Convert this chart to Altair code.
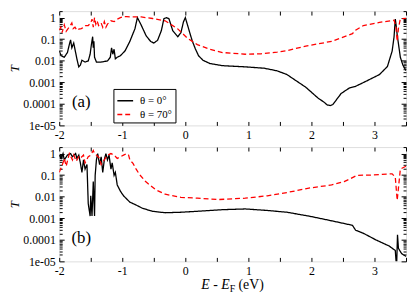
import math
import altair as alt
import pandas as pd

FONT = "Liberation Serif"
series_names = ["θ = 0°", "θ = 70°"]
series_colors = ["#000000", "#ff0000"]
series_dashes = [[1, 0], [5, 3]]

# ---- panel (a): (E, T) pairs ----
a_theta0 = [(-2.0, 0.029), (-1.97, 0.017), (-1.92, 0.0145), (-1.87, 0.024), (-1.84, 0.056), (-1.82, 0.093),
            (-1.80, 0.040), (-1.77, 0.066), (-1.74, 0.024), (-1.715, 0.0105), (-1.69, 0.0052), (-1.665, 0.0063),
            (-1.64, 0.0105), (-1.59, 0.0087), (-1.54, 0.0098), (-1.51, 0.020), (-1.49, 0.056), (-1.47, 0.13),
            (-1.46, 0.040), (-1.45, 0.079), (-1.44, 0.0145), (-1.41, 0.0087), (-1.335, 0.0087), (-1.235, 0.0098),
            (-1.19, 0.0145), (-1.17, 0.040), (-1.15, 0.020), (-1.13, 0.034), (-1.11, 0.0123), (-1.08, 0.0145),
            (-1.03, 0.017), (-0.955, 0.029), (-0.88, 0.079), (-0.80, 0.30), (-0.76, 1.0), (-0.70, 0.45),
            (-0.62, 0.14), (-0.55, 0.079), (-0.50, 0.066), (-0.44, 0.089), (-0.38, 0.25), (-0.34, 0.89),
            (-0.30, 1.0), (-0.26, 0.89), (-0.20, 0.25), (-0.12, 0.13), (-0.07, 0.20), (-0.03, 0.63), (0.0, 1.0),
            (0.04, 0.40), (0.08, 0.16), (0.11, 0.083), (0.16, 0.035), (0.21, 0.017), (0.28, 0.0105),
            (0.39, 0.0074), (0.59, 0.0059), (0.95, 0.0052), (1.25, 0.0045), (1.455, 0.0034), (1.61, 0.0023),
            (1.91, 5.9e-4), (2.11, 1.8e-4), (2.20, 1.2e-4), (2.25, 8.9e-5), (2.30, 8.3e-5), (2.34, 9.3e-5),
            (2.40, 1.6e-4), (2.47, 3.0e-4), (2.60, 5.4e-4), (2.69, 6.3e-4), (2.875, 1.15e-3), (3.08, 2.3e-3),
            (3.205, 5.4e-3), (3.28, 0.028), (3.31, 0.126), (3.33, 0.85), (3.345, 0.40), (3.36, 0.16),
            (3.41, 0.0145), (3.45, 0.0063), (3.50, 0.0035)]
a_theta70 = [(-2.0, 0.26), (-1.975, 0.36), (-1.955, 0.20), (-1.92, 0.46), (-1.89, 0.23), (-1.86, 0.31),
             (-1.83, 0.40), (-1.80, 0.56), (-1.78, 0.31), (-1.75, 0.36), (-1.72, 0.26), (-1.69, 0.29),
             (-1.65, 0.31), (-1.61, 0.36), (-1.58, 0.43), (-1.54, 0.43), (-1.50, 0.56), (-1.48, 0.85),
             (-1.46, 0.36), (-1.44, 1.0), (-1.42, 0.50), (-1.40, 0.71), (-1.375, 0.43), (-1.335, 0.56),
             (-1.31, 0.36), (-1.285, 0.65), (-1.26, 0.36), (-1.235, 0.50), (-1.18, 0.71), (-1.13, 0.65),
             (-1.08, 0.85), (-1.03, 1.0), (-0.98, 1.10), (-0.93, 1.10), (-0.85, 1.07), (-0.70, 1.07),
             (-0.52, 0.91), (-0.32, 0.71), (-0.12, 0.30), (0.035, 0.11), (0.19, 0.056), (0.39, 0.034),
             (0.59, 0.024), (0.95, 0.020), (1.2, 0.021), (1.455, 0.025), (1.61, 0.029), (1.91, 0.048),
             (2.32, 0.079), (2.65, 0.18), (2.70, 0.26), (2.825, 0.43), (3.08, 0.60), (3.31, 0.76),
             (3.34, 0.40), (3.36, 0.079), (3.38, 0.32), (3.41, 0.89), (3.50, 0.93)]

# ---- panel (b) ----
b_theta0 = [(-2.0, 0.85), (-1.97, 0.60), (-1.94, 1.0), (-1.92, 0.51), (-1.87, 0.85), (-1.82, 1.0),
            (-1.79, 0.71), (-1.74, 1.0), (-1.72, 0.60), (-1.69, 0.85), (-1.665, 0.37), (-1.64, 0.135),
            (-1.615, 0.51), (-1.59, 0.19), (-1.56, 0.31), (-1.54, 0.0048), (-1.51, 0.00126), (-1.50, 0.011),
            (-1.48, 0.00126), (-1.46, 0.050), (-1.44, 0.00126), (-1.43, 0.098), (-1.41, 0.51), (-1.39, 1.0),
            (-1.36, 0.31), (-1.335, 0.71), (-1.31, 0.135), (-1.285, 0.51), (-1.26, 1.0), (-1.235, 0.51),
            (-1.21, 0.85), (-1.18, 0.19), (-1.16, 0.37), (-1.13, 0.098), (-1.11, 0.135), (-1.08, 0.035),
            (-1.03, 0.018), (-0.98, 0.011), (-0.88, 0.0056), (-0.78, 0.0041), (-0.68, 0.0029), (-0.52, 0.0021),
            (-0.32, 0.0018), (-0.07, 0.0019), (0.19, 0.0021), (0.59, 0.0025), (0.95, 0.0027), (1.30, 0.0023),
            (1.61, 0.0019), (1.96, 0.00126), (2.32, 7.6e-4), (2.65, 4.7e-4), (2.70, 2.8e-4), (2.825, 2.0e-4),
            (3.02, 1.0e-4), (3.23, 5.2e-5), (3.33, 3.2e-5), (3.35, 5e-6), (3.365, 1.7e-4), (3.38, 4.0e-5),
            (3.43, 2.3e-5), (3.50, 1.7e-5)]
b_theta70 = [(-2.0, 0.135), (-1.97, 0.22), (-1.94, 0.37), (-1.92, 0.60), (-1.89, 0.26), (-1.84, 1.0),
             (-1.79, 0.51), (-1.77, 0.85), (-1.73, 0.44), (-1.69, 0.71), (-1.665, 0.60), (-1.615, 0.85),
             (-1.59, 0.37), (-1.54, 0.71), (-1.50, 0.85), (-1.46, 1.38), (-1.44, 1.0), (-1.41, 0.85),
             (-1.36, 0.60), (-1.335, 0.31), (-1.285, 0.51), (-1.235, 0.85), (-1.18, 1.0), (-1.13, 0.85),
             (-1.08, 0.60), (-1.03, 0.71), (-0.98, 0.85), (-0.93, 1.0), (-0.90, 0.85), (-0.88, 0.51),
             (-0.83, 0.35), (-0.78, 0.19), (-0.73, 0.11), (-0.63, 0.050), (-0.47, 0.021), (-0.32, 0.013),
             (-0.07, 0.0093), (0.19, 0.0085), (0.54, 0.0074), (0.95, 0.0085), (1.30, 0.011), (1.61, 0.0155),
             (1.96, 0.025), (2.32, 0.035), (2.52, 0.050), (2.62, 0.069), (2.72, 0.098), (2.92, 0.10),
             (3.28, 0.115), (3.33, 0.081), (3.36, 0.0068), (3.38, 0.025), (3.41, 0.19), (3.45, 0.22),
             (3.50, 0.26)]

panel_labels = ["(a)", "(b)"]
panel_label_pos = (-1.65, 1.2e-4)

x_ticks = [-2, -1.5, -1, -0.5, 0, 0.5, 1, 1.5, 2, 2.5, 3, 3.5]
x_tick_labels = ["-2", "", "-1", "", "0", "", "1", "", "2", "", "3", ""]
y_major = [1e-5, 1e-4, 1e-3, 1e-2, 1e-1, 1]
y_major_labels = ["1e-05", "0.0001", "0.001", "0.01", "0.1", "1"]
y_minor = [m * d for d in y_major for m in range(2, 10) if m * d <= 2]

W, H = 352, 116

xscale = alt.Scale(domain=[-2, 3.5], nice=False, zero=False)
yscale = alt.Scale(type="log", domain=[1e-5, 2], nice=False)


def x_label_expr():
    expr = "''"
    for v, lab in reversed(list(zip(x_ticks, x_tick_labels))):
        expr = f"abs(datum.value - ({v})) < 0.1 ? '{lab}' : ({expr})"
    return expr


def y_label_expr():
    expr = "''"
    for v, lab in reversed(list(zip(y_major, y_major_labels))):
        expr = f"abs(log(datum.value) - ({math.log(v)})) < 0.3 ? '{lab}' : ({expr})"
    return expr


common = dict(grid=False, domain=False, tickColor="black", tickWidth=1, labelColor="black",
              labelFontSize=12, labelFlush=False, labelOverlap=False, labelBound=False)

x_bottom = alt.Axis(orient="bottom", values=x_ticks, tickSize=4, offset=-4, labelExpr=x_label_expr(),
                    labelPadding=4, title=None, **common)
x_top = alt.Axis(orient="top", values=x_ticks, tickSize=4, offset=-4, labels=False, title=None, **common)
y_left_major = alt.Axis(orient="left", values=y_major, tickSize=5, offset=-5, labelExpr=y_label_expr(),
                        labelPadding=4, title="T", titleFontSize=13, titleFontStyle="italic",
                        titleFontWeight="normal", titleColor="black", titlePadding=1, **common)
y_left_minor = alt.Axis(orient="left", values=y_minor, tickSize=3, offset=-3, labels=False, title=None, **common)
y_right_major = alt.Axis(orient="right", values=y_major, tickSize=5, offset=-5, labels=False, title=None, **common)
y_right_minor = alt.Axis(orient="right", values=y_minor, tickSize=3, offset=-3, labels=False, title=None, **common)

anchor = pd.DataFrame({"x": [0.0], "T": [0.01]})


def axis_layer(xa, ya):
    return alt.Chart(anchor).mark_point(opacity=0).encode(
        x=alt.X("x:Q", scale=xscale, axis=xa),
        y=alt.Y("T:Q", scale=yscale, axis=ya),
    )


def make_df(s0, s70):
    rows = [{"x": x, "T": t, "series": series_names[0]} for x, t in s0]
    rows += [{"x": x, "T": t, "series": series_names[1]} for x, t in s70]
    return pd.DataFrame(rows)


def panel(s0, s70, label, legend, with_title):
    df = make_df(s0, s70)
    lines = alt.Chart(df).mark_line(clip=True, strokeWidth=1.3).encode(
        x=alt.X("x:Q", scale=xscale, axis=None),
        y=alt.Y("T:Q", scale=yscale, axis=None),
        color=alt.Color("series:N", scale=alt.Scale(domain=series_names, range=series_colors), legend=legend),
        strokeDash=alt.StrokeDash("series:N", scale=alt.Scale(domain=series_names, range=series_dashes),
                                  legend=legend),
    )
    lab = alt.Chart(pd.DataFrame({"x": [panel_label_pos[0]], "T": [panel_label_pos[1]], "t": [label]})).mark_text(
        fontSize=17, color="black").encode(
        x=alt.X("x:Q", scale=xscale, axis=None),
        y=alt.Y("T:Q", scale=yscale, axis=None),
        text="t:N",
    )
    layers = [
        axis_layer(x_bottom, y_left_major),
        axis_layer(x_top, y_left_minor),
        axis_layer(None, y_right_major),
        axis_layer(None, y_right_minor),
        lines,
        lab,
    ]
    if with_title:
        cx = W / 2
        base = H + 28
        layers.append(alt.Chart(anchor).mark_text(text="E - E", fontSize=14, fontStyle="italic",
                                                  align="right", baseline="alphabetic", color="black").encode(
            x=alt.value(cx - 3), y=alt.value(base)))
        layers.append(alt.Chart(anchor).mark_text(text="F", fontSize=10,
                                                  align="left", baseline="alphabetic", color="black").encode(
            x=alt.value(cx - 3), y=alt.value(base + 3)))
        layers.append(alt.Chart(anchor).mark_text(text="(eV)", fontSize=14,
                                                  align="left", baseline="alphabetic", color="black").encode(
            x=alt.value(cx + 6), y=alt.value(base)))
    return alt.layer(*layers).resolve_axis(x="independent", y="independent").properties(width=W, height=H)


legend_a = alt.Legend(orient="none", legendX=55, legendY=79, title=None, symbolType="stroke", symbolSize=256,
                      symbolStrokeWidth=1.5, labelFontSize=11, labelColor="black",
                      strokeColor="black", fillColor="white", padding=3, rowPadding=-5, labelOffset=6)

chart = alt.vconcat(
    panel(a_theta0, a_theta70, panel_labels[0], legend_a, False),
    panel(b_theta0, b_theta70, panel_labels[1], None, True),
    spacing=5,
).resolve_scale(color="independent", strokeDash="independent").properties(
    padding={"left": 0, "top": 0, "right": 0, "bottom": 0}, background="white"
).configure_view(stroke="black", strokeWidth=1).configure(font=FONT)

chart.save("out.html", embed_options={"renderer": "svg", "actions": False})
